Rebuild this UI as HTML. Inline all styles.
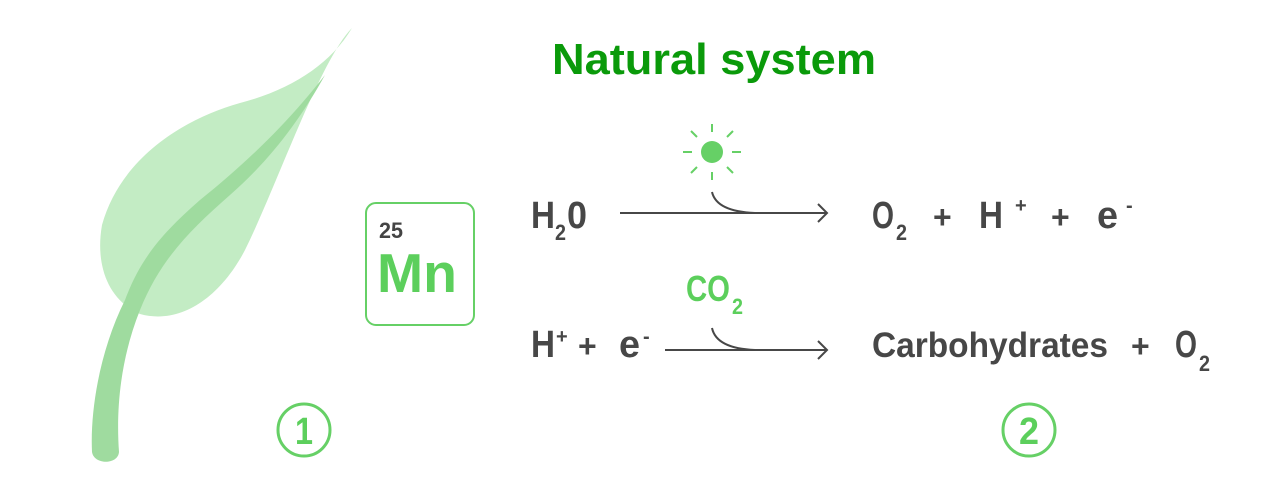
<!DOCTYPE html>
<html><head><meta charset="utf-8"><style>
html,body{margin:0;padding:0;background:#fff;width:1280px;height:490px;overflow:hidden}
svg text{font-family:"Liberation Sans",sans-serif;font-weight:bold}
</style></head><body>
<svg width="1280" height="490" viewBox="0 0 1280 490" xmlns="http://www.w3.org/2000/svg">
<path d="M352,28 C330,65 290,90 240,103 C180,120 120,160 102,225 C95,265 108,300 140,314 C180,325 220,298 245,250 C275,190 320,60 352,28 Z" fill="#c3ecc4"/>
<path d="M325,75 C290,120 250,160 200,200 C160,235 140,260 125,300 C100,350 90,410 92,452 C94,465 118,465 119,452 C116,410 120,360 140,310 C160,260 190,230 230,195 C270,160 300,120 325,75 Z" fill="#9fdb9f"/>
<text x="552" y="74" font-size="44" fill="#0a9a0a" textLength="324" lengthAdjust="spacingAndGlyphs">Natural system</text>
<rect x="366" y="203" width="108" height="122" rx="10" fill="none" stroke="#66d066" stroke-width="2"/>
<text x="379" y="238" font-size="22" fill="#444" textLength="24" lengthAdjust="spacingAndGlyphs">25</text>
<text x="377" y="292" font-size="55" fill="#5ccf5c" textLength="80" lengthAdjust="spacingAndGlyphs">Mn</text>
<g fill="#474747">
<text x="531" y="228" font-size="38" textLength="24" lengthAdjust="spacingAndGlyphs">H</text>
<text x="555" y="240" font-size="22" textLength="11" lengthAdjust="spacingAndGlyphs">2</text>
<text x="567" y="228" font-size="38" textLength="20" lengthAdjust="spacingAndGlyphs">0</text>
<text x="872" y="228" font-size="38" textLength="22" lengthAdjust="spacingAndGlyphs">O</text>
<text x="896" y="240" font-size="22" textLength="11" lengthAdjust="spacingAndGlyphs">2</text>
<text x="933" y="228" font-size="32">+</text>
<text x="979" y="228" font-size="38" textLength="24" lengthAdjust="spacingAndGlyphs">H</text>
<text x="1015" y="212" font-size="20">+</text>
<text x="1051" y="228" font-size="32">+</text>
<text x="1097" y="228" font-size="38" textLength="21" lengthAdjust="spacingAndGlyphs">e</text>
<text x="1126" y="212" font-size="20">-</text>
<text x="531" y="357" font-size="38" textLength="24" lengthAdjust="spacingAndGlyphs">H</text>
<text x="556" y="343" font-size="20">+</text>
<text x="578" y="357" font-size="32">+</text>
<text x="619" y="357" font-size="38" textLength="21" lengthAdjust="spacingAndGlyphs">e</text>
<text x="643" y="343" font-size="20">-</text>
<text x="872" y="357" font-size="35" textLength="236" lengthAdjust="spacingAndGlyphs">Carbohydrates</text>
<text x="1131" y="357" font-size="32">+</text>
<text x="1175" y="357" font-size="38" textLength="22" lengthAdjust="spacingAndGlyphs">O</text>
<text x="1199" y="371" font-size="22" textLength="11" lengthAdjust="spacingAndGlyphs">2</text>
</g>
<text x="686" y="301" font-size="36" fill="#5ccf5c" textLength="44" lengthAdjust="spacingAndGlyphs">CO</text>
<text x="732" y="314" font-size="22" fill="#5ccf5c" textLength="11" lengthAdjust="spacingAndGlyphs">2</text>
<g stroke="#474747" stroke-width="2" fill="none">
<line x1="620" y1="213" x2="827" y2="213"/>
<polyline points="818,204 827,213 818,222"/>
<path d="M712,192 C715,205 730,212 755,213"/>
<line x1="665" y1="350" x2="827" y2="350"/>
<polyline points="818,341 827,350 818,359"/>
<path d="M712,328 C715,342 730,349 755,350"/>
</g>
<circle cx="712" cy="152" r="11" fill="#66d066"/>
<g stroke="#66d066" stroke-width="2">
<line x1="712" y1="124" x2="712" y2="132"/><line x1="712" y1="172" x2="712" y2="180"/>
<line x1="683" y1="152" x2="692" y2="152"/><line x1="732" y1="152" x2="741" y2="152"/>
<line x1="691" y1="131" x2="697" y2="137"/><line x1="727" y1="167" x2="733" y2="173"/>
<line x1="733" y1="131" x2="727" y2="137"/><line x1="697" y1="167" x2="691" y2="173"/>
</g>
<circle cx="304" cy="430" r="26" fill="none" stroke="#66d066" stroke-width="3"/>
<text x="304" y="444" font-size="38" fill="#5ccf5c" text-anchor="middle" textLength="18" lengthAdjust="spacingAndGlyphs">1</text>
<circle cx="1029" cy="430" r="26" fill="none" stroke="#66d066" stroke-width="3"/>
<text x="1029" y="444" font-size="38" fill="#5ccf5c" text-anchor="middle" textLength="20" lengthAdjust="spacingAndGlyphs">2</text>
</svg>
</body></html>
